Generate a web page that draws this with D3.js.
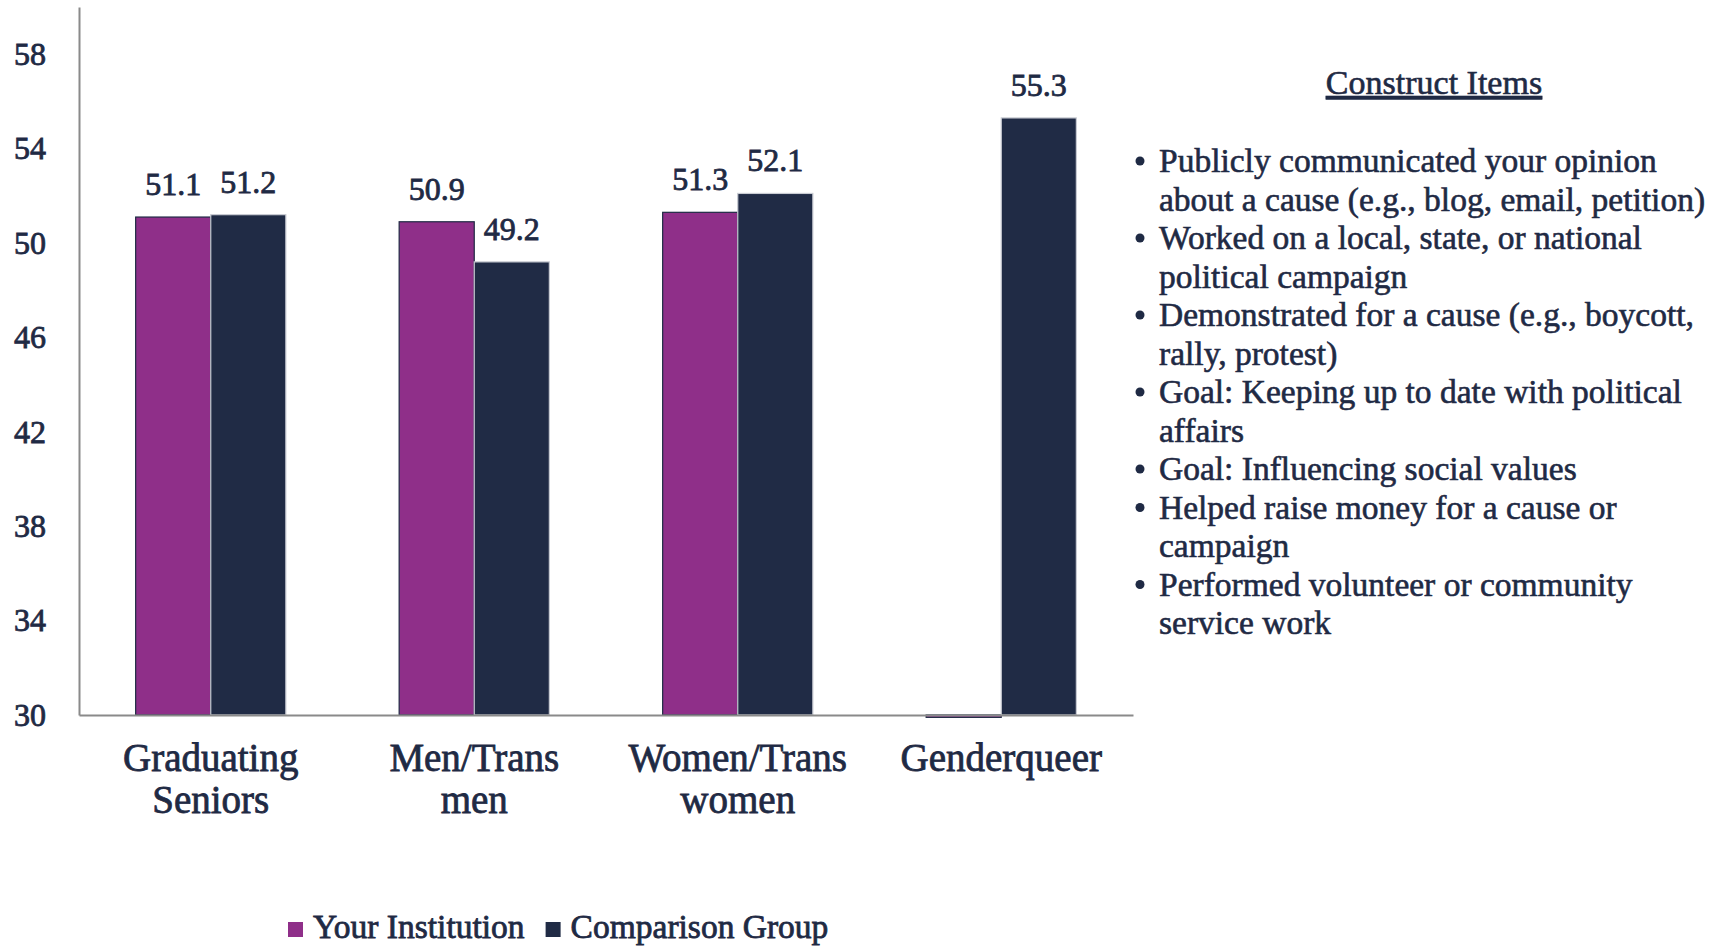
<!DOCTYPE html>
<html>
<head>
<meta charset="utf-8">
<script src="https://cdn.jsdelivr.net/npm/d3@7"></script>
<style>
  html, body { margin: 0; padding: 0; background: #ffffff; }
  svg text { font-family: "Liberation Serif", "DejaVu Serif", serif; fill: #1f2a44; }
</style>
</head>
<body>
<svg id="chart" width="1723" height="947"></svg>
<script>
// ---- data ----
const categories = ["Graduating Seniors", "Men/Trans men", "Women/Trans women", "Genderqueer"];
const categoryLines = [["Graduating", "Seniors"], ["Men/Trans", "men"], ["Women/Trans", "women"], ["Genderqueer"]];
const seriesNames = ["Your Institution", "Comparison Group"];
const yourInstitution = [51.1, 50.9, 51.3, 29.9];
const comparisonGroup = [51.2, 49.2, 52.1, 55.3];
const showLabel = [[true, true], [true, true], [true, true], [false, true]];
const yTicks = [30, 34, 38, 42, 46, 50, 54, 58];
const yDomain = [30, 60];
const listTitle = "Construct Items";
const constructItems = [
  ["Publicly communicated your opinion", "about a cause (e.g., blog, email, petition)"],
  ["Worked on a local, state, or national", "political campaign"],
  ["Demonstrated for a cause (e.g., boycott,", "rally, protest)"],
  ["Goal: Keeping up to date with political", "affairs"],
  ["Goal: Influencing social values"],
  ["Helped raise money for a cause or", "campaign"],
  ["Performed volunteer or community", "service work"]
];

// ---- styles ----
const colors = { "Your Institution": "#8f2f89", "Comparison Group": "#202b45" };
const strokes = { "Your Institution": "#1f2a44", "Comparison Group": "#c9ccd3" };
const textColor = "#1f2a44";
const boldStroke = "0.8px";

const svg = d3.select("#chart");
const plot = { left: 79, right: 1133, top: 7, bottom: 715 };

const x = d3.scaleBand().domain(categories).range([plot.left, plot.right])
  .paddingInner(0.43).paddingOuter(0.215);
const xi = d3.scaleBand().domain(seriesNames).range([0, x.bandwidth()]);
const y = d3.scaleLinear().domain(yDomain).range([plot.bottom, plot.top]);

const rows = categories.map((c, i) => ({
  cat: c,
  vals: [
    { s: seriesNames[0], v: yourInstitution[i], label: showLabel[i][0] },
    { s: seriesNames[1], v: comparisonGroup[i], label: showLabel[i][1] }
  ]
}));

// bars
const groups = svg.append("g").selectAll("g").data(rows).join("g")
  .attr("transform", d => `translate(${x(d.cat)},0)`);

groups.selectAll("rect").data(d => d.vals).join("rect")
  .attr("x", d => xi(d.s))
  .attr("width", xi.bandwidth())
  .attr("y", d => Math.min(y(d.v), y(yDomain[0])))
  .attr("height", d => Math.max(Math.abs(y(yDomain[0]) - y(d.v)), 0))
  .attr("fill", d => colors[d.s])
  .attr("stroke", d => strokes[d.s])
  .attr("stroke-width", 1.2);

// value labels
groups.selectAll("text.val").data(d => d.vals.filter(v => v.label)).join("text")
  .attr("class", "val")
  .attr("x", d => xi(d.s) + xi.bandwidth() / 2)
  .attr("y", d => y(d.v) - 22)
  .attr("text-anchor", "middle")
  .style("font-size", "32px")
  .style("stroke", textColor).style("stroke-width", boldStroke)
  .text(d => d.v.toFixed(1));

// y axis
const yAxis = svg.append("g").attr("transform", `translate(${plot.left},0)`)
  .call(d3.axisLeft(y).tickValues(yTicks).tickSize(0).tickSizeOuter(0).tickPadding(33));
yAxis.select(".domain").attr("stroke", "#8a8a8a").attr("stroke-width", 2);
yAxis.selectAll("text").style("font-size", "32px").style("fill", textColor)
  .style("font-family", '"Liberation Serif", serif')
  .style("stroke", textColor).style("stroke-width", boldStroke);

// x axis
const xAxis = svg.append("g").attr("transform", `translate(0,${plot.bottom})`)
  .call(d3.axisBottom(x).tickSize(0).tickSizeOuter(0).tickFormat(""));
xAxis.select(".domain").attr("stroke", "#8a8a8a").attr("stroke-width", 2);

// category labels
const catText = svg.append("g").selectAll("text").data(categories).join("text")
  .attr("x", d => x(d) + x.bandwidth() / 2)
  .attr("y", 771)
  .attr("text-anchor", "middle")
  .style("font-size", "39px")
  .style("stroke", textColor).style("stroke-width", boldStroke);
catText.each(function(d, i) {
  const t = d3.select(this);
  categoryLines[i].forEach((line, j) => {
    t.append("tspan").attr("x", x(d) + x.bandwidth() / 2).attr("dy", j === 0 ? 0 : 42).text(line);
  });
});

// legend
const legend = svg.append("g").attr("transform", "translate(288,928)");
let lx = 0;
seriesNames.forEach((s, i) => {
  const g = legend.append("g").attr("transform", `translate(${lx},0)`);
  g.append("rect").attr("x", 0).attr("y", -6).attr("width", 15).attr("height", 15).attr("fill", colors[s]);
  const t = g.append("text").attr("x", 25).attr("y", 10).style("font-size", "33.5px")
    .style("stroke", textColor).style("stroke-width", boldStroke).text(s);
  lx += 25 + t.node().getComputedTextLength() + 21;
});

// construct items panel
svg.append("text").attr("x", 1434).attr("y", 94).attr("text-anchor", "middle")
  .style("font-size", "34px").style("text-decoration", "underline")
  .style("stroke", textColor).style("stroke-width", "0.6px")
  .text(listTitle);

let lineIdx = 0;
const lineH = 38.5, firstY = 172;
const list = svg.append("g");
constructItems.forEach(item => {
  const yy = firstY + lineIdx * lineH;
  list.append("circle").attr("cx", 1140).attr("cy", yy - 11).attr("r", 4.5).attr("fill", textColor);
  item.forEach((line, j) => {
    list.append("text").attr("x", 1159).attr("y", firstY + (lineIdx + j) * lineH)
      .style("font-size", "33.5px")
      .style("stroke", textColor).style("stroke-width", "0.6px")
      .text(line);
  });
  lineIdx += item.length;
});
</script>
</body>
</html>
